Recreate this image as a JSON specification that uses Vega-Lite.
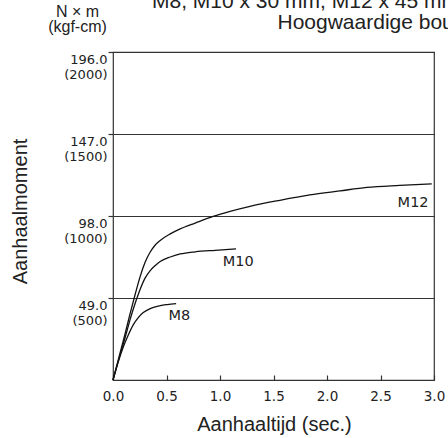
{
  "$schema": "https://vega.github.io/schema/vega-lite/v6.json",
  "autosize": {"type": "none"},
  "width": 321,
  "height": 328,
  "padding": {"left": 113, "top": 52, "right": 14, "bottom": 58},
  "background": "white",
  "config": {
    "view": {"stroke": "#333", "strokeWidth": 1.2},
    "font": "Liberation Sans"
  },
  "title": {
    "text": "M8, M10 x 30 mm, M12 x 45 mm",
    "anchor": "start",
    "frame": "group",
    "align": "left",
    "dx": 39,
    "dy": 26,
    "offset": 0,
    "baseline": "alphabetic",
    "font": "Liberation Sans",
    "fontSize": 21,
    "fontWeight": "normal",
    "color": "#222"
  },
  "datasets": {
    "curves": [
      {"bolt": "M8", "t": 0, "T": 0},
      {"bolt": "M8", "t": 0.049, "T": 10.8},
      {"bolt": "M8", "t": 0.096, "T": 19.7},
      {"bolt": "M8", "t": 0.143, "T": 26.9},
      {"bolt": "M8", "t": 0.189, "T": 32.9},
      {"bolt": "M8", "t": 0.236, "T": 37.3},
      {"bolt": "M8", "t": 0.283, "T": 40.3},
      {"bolt": "M8", "t": 0.348, "T": 42.7},
      {"bolt": "M8", "t": 0.423, "T": 44.2},
      {"bolt": "M8", "t": 0.507, "T": 45.1},
      {"bolt": "M8", "t": 0.59, "T": 45.7},
      {"bolt": "M10", "t": 0, "T": 0},
      {"bolt": "M10", "t": 0.068, "T": 15.5},
      {"bolt": "M10", "t": 0.115, "T": 25.7},
      {"bolt": "M10", "t": 0.161, "T": 36.4},
      {"bolt": "M10", "t": 0.208, "T": 46.0},
      {"bolt": "M10", "t": 0.255, "T": 54.4},
      {"bolt": "M10", "t": 0.301, "T": 61.0},
      {"bolt": "M10", "t": 0.348, "T": 65.4},
      {"bolt": "M10", "t": 0.395, "T": 68.4},
      {"bolt": "M10", "t": 0.441, "T": 70.8},
      {"bolt": "M10", "t": 0.535, "T": 73.5},
      {"bolt": "M10", "t": 0.628, "T": 75.3},
      {"bolt": "M10", "t": 0.768, "T": 76.6},
      {"bolt": "M10", "t": 0.954, "T": 77.5},
      {"bolt": "M10", "t": 1.15, "T": 78.3},
      {"bolt": "M12", "t": 0, "T": 0},
      {"bolt": "M12", "t": 0.068, "T": 16.7},
      {"bolt": "M12", "t": 0.115, "T": 28.1},
      {"bolt": "M12", "t": 0.161, "T": 40.0},
      {"bolt": "M12", "t": 0.208, "T": 51.4},
      {"bolt": "M12", "t": 0.255, "T": 62.1},
      {"bolt": "M12", "t": 0.301, "T": 70.5},
      {"bolt": "M12", "t": 0.348, "T": 76.5},
      {"bolt": "M12", "t": 0.395, "T": 80.7},
      {"bolt": "M12", "t": 0.441, "T": 83.4},
      {"bolt": "M12", "t": 0.535, "T": 87.3},
      {"bolt": "M12", "t": 0.628, "T": 90.3},
      {"bolt": "M12", "t": 0.768, "T": 93.8},
      {"bolt": "M12", "t": 0.936, "T": 97.8},
      {"bolt": "M12", "t": 1.094, "T": 100.8},
      {"bolt": "M12", "t": 1.281, "T": 103.8},
      {"bolt": "M12", "t": 1.56, "T": 107.4},
      {"bolt": "M12", "t": 1.84, "T": 110.6},
      {"bolt": "M12", "t": 2.12, "T": 113.0},
      {"bolt": "M12", "t": 2.372, "T": 115.1},
      {"bolt": "M12", "t": 2.68, "T": 116.3},
      {"bolt": "M12", "t": 2.979, "T": 117.2}
    ],
    "labels": [
      {"bolt": "M8", "t": 0.519, "T": 38.2},
      {"bolt": "M10", "t": 1.026, "T": 70.7},
      {"bolt": "M12", "t": 2.66, "T": 105.6}
    ]
  },
  "layer": [
    {
      "data": {"name": "curves"},
      "mark": {"type": "line", "interpolate": "monotone", "color": "#111", "strokeWidth": 1.3},
      "encoding": {
        "x": {
          "field": "t", "type": "quantitative",
          "scale": {"domain": [0, 3], "nice": false, "zero": false},
          "axis": {
            "values": [0, 0.5, 1, 1.5, 2, 2.5, 3],
            "format": ".1f",
            "grid": false,
            "domain": false,
            "tickSize": -5,
            "tickColor": "#333",
            "tickWidth": 1.2,
            "labelPadding": 14,
            "labelFlush": false,
            "labelOverlap": false,
            "labelFont": "DejaVu Sans",
            "labelFontSize": 13.5,
            "labelColor": "#222",
            "title": "Aanhaaltijd (sec.)",
            "titleFont": "Liberation Sans",
            "titleFontSize": 20,
            "titleFontWeight": "normal",
            "titleColor": "#222",
            "titleX": 161,
            "titleY": 50,
            "titleAlign": "center",
            "titleBaseline": "alphabetic"
          }
        },
        "y": {
          "field": "T", "type": "quantitative",
          "scale": {"domain": [0, 196], "nice": false},
          "axis": {
            "values": [49, 98, 147, 196],
            "labelExpr": "[format(datum.value, '.1f'), '(' + format(datum.value / 0.098, 'd') + ')']",
            "grid": true,
            "gridColor": "#333",
            "gridWidth": 1.2,
            "domain": false,
            "tickSize": 5,
            "tickColor": "#333",
            "tickWidth": 1.2,
            "labelPadding": 1,
            "labelFont": "DejaVu Sans",
            "labelFontSize": 13,
            "labelColor": "#222",
            "labelBaseline": "middle",
            "labelLineHeight": 15,
            "labelOffset": 7.5,
            "labelOverlap": false,
            "title": "Aanhaalmoment",
            "titleFont": "Liberation Sans",
            "titleFontSize": 20,
            "titleFontWeight": "normal",
            "titleColor": "#222",
            "titleAngle": -90,
            "titleX": -93,
            "titleY": 159,
            "titleAlign": "center",
            "titleBaseline": "middle"
          }
        },
        "detail": {"field": "bolt"}
      }
    },
    {
      "data": {"name": "labels"},
      "mark": {"type": "text", "align": "left", "baseline": "middle", "font": "DejaVu Sans", "fontSize": 14.5, "color": "#222"},
      "encoding": {
        "x": {"field": "t", "type": "quantitative", "axis": null},
        "y": {"field": "T", "type": "quantitative", "axis": null},
        "text": {"field": "bolt"}
      }
    },
    {
      "data": {"name": "curves"},
      "mark": {"type": "point", "opacity": 0},
      "encoding": {
        "x": {
          "field": "t", "type": "quantitative",
          "axis": {
            "orient": "top",
            "labels": false, "ticks": false, "domain": false, "grid": false,
            "title": "Hoogwaardige bout",
            "titleFont": "Liberation Sans",
            "titleFontSize": 21,
            "titleFontWeight": "normal",
            "titleColor": "#222",
            "titleX": 164,
            "titleY": -24,
            "titleAlign": "left",
            "titleBaseline": "alphabetic"
          }
        },
        "y": {
          "field": "T", "type": "quantitative",
          "axis": {
            "orient": "right",
            "labels": false, "ticks": false, "domain": false, "grid": false,
            "title": ["N × m", "(kgf-cm)"],
            "titleFont": "Liberation Sans",
            "titleFontSize": 16,
            "titleFontWeight": "normal",
            "titleColor": "#222",
            "titleAngle": 0,
            "titleLineHeight": 15,
            "titleX": -357,
            "titleY": -36,
            "titleAlign": "center",
            "titleBaseline": "alphabetic"
          }
        }
      }
    }
  ],
  "resolve": {"axis": {"x": "independent", "y": "independent"}}
}
